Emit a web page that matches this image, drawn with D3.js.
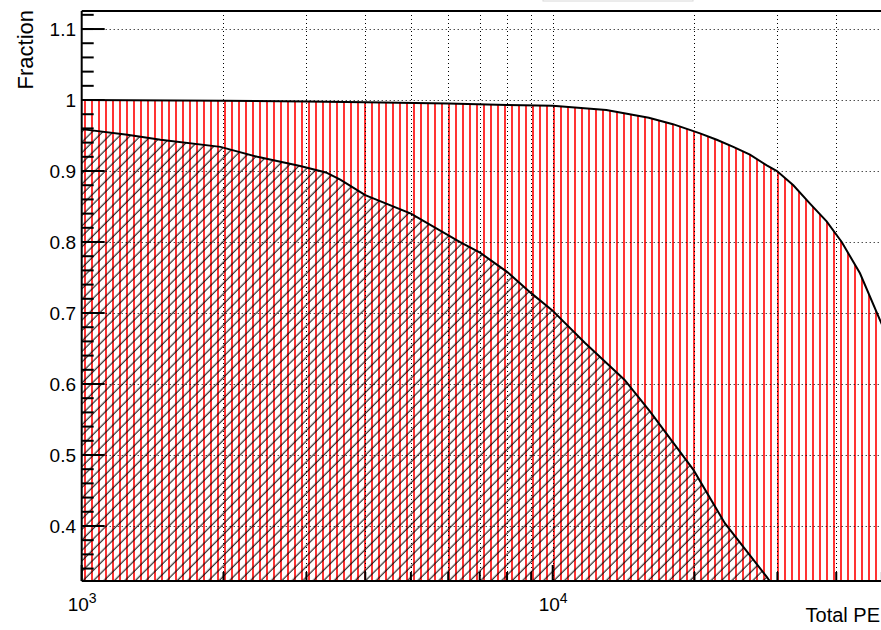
<!DOCTYPE html>
<html>
<head>
<meta charset="utf-8">
<script src="https://cdn.jsdelivr.net/npm/d3@7"></script>
<style>
body { margin: 0; background: #fff; }
text { font-family: "Liberation Sans", Arial, sans-serif; fill: #000; }
</style>
</head>
<body>
<div id="chart"></div>
<script>
const width = 881
const height = 630
const frame = {left: 81.7, right: 881.9, top: 11, bottom: 581}

// all events (red, vertical hatch)
const allPE = [1000, 2000, 3000, 4000, 6000, 8000, 10000, 13000, 16000, 18000, 20550, 22300, 24180, 26230, 28480, 29930, 32430, 35180, 38160, 41080, 44920, 49540, 50000]
const allFraction = [1.0, 0.999, 0.998, 0.997, 0.995, 0.993, 0.992, 0.986, 0.975, 0.966, 0.953, 0.944, 0.934, 0.923, 0.908, 0.900, 0.880, 0.854, 0.829, 0.800, 0.756, 0.690, 0.684]

// selected events (black, diagonal hatch)
const selPE = [1000, 1250, 1470, 1970, 2360, 2910, 3300, 3540, 4000, 5000, 6360, 7010, 8000, 9000, 9970, 11700, 14200, 16100, 19900, 23200, 28500, 30500]
const selFraction = [0.959, 0.951, 0.944, 0.934, 0.920, 0.907, 0.898, 0.888, 0.866, 0.840, 0.800, 0.785, 0.758, 0.728, 0.704, 0.658, 0.606, 0.561, 0.479, 0.404, 0.328, 0.300]

const yMajorTicks = [0.4, 0.5, 0.6, 0.7, 0.8, 0.9, 1.0, 1.1]
const yTickLabels = ["0.4", "0.5", "0.6", "0.7", "0.8", "0.9", "1", "1.1"]
const xDecades = [1000, 10000]
const xDecadeLabels = ["3", "4"]
const xSubTicks = [2000, 3000, 4000, 5000, 6000, 7000, 8000, 9000, 20000, 30000, 40000, 50000]

const svg = d3.select("div#chart").append("svg").attr("width", width).attr("height", height)

const x = d3.scaleLog().domain([1000, 50000]).range([frame.left, frame.right])
const y = d3.scaleLinear().domain([0.3225, 1.1254]).range([frame.bottom, frame.top])

const defs = svg.append("defs")
defs.append("clipPath").attr("id", "plotClip")
    .append("rect").attr("x", frame.left).attr("y", frame.top)
    .attr("width", frame.right - frame.left).attr("height", frame.bottom - frame.top)

defs.append("pattern").attr("id", "redVert").attr("patternUnits", "userSpaceOnUse")
    .attr("x", -3).attr("width", 7).attr("height", 10)
    .append("line").attr("x1", 4).attr("x2", 4).attr("y1", 0).attr("y2", 10)
    .attr("stroke", "#ff0000").attr("stroke-width", 1.6)

defs.append("pattern").attr("id", "blackDiag").attr("patternUnits", "userSpaceOnUse")
    .attr("width", 7.4).attr("height", 10).attr("patternTransform", "rotate(45)")
    .append("line").attr("x1", 3).attr("x2", 3).attr("y1", 0).attr("y2", 10)
    .attr("stroke", "#000").attr("stroke-width", 1)

// title box, mostly outside the picture
svg.append("rect").attr("x", 543).attr("y", -20).attr("width", 150).attr("height", 21)
    .attr("fill", "#fff").attr("stroke", "#d8d8d8").attr("stroke-width", 1)

const plot = svg.append("g").attr("clip-path", "url(#plotClip)")

const allData = allPE.map((d, i) => ({pe: d, f: allFraction[i]}))
const selData = selPE.map((d, i) => ({pe: d, f: selFraction[i]}))

const area = d3.area().x(d => x(d.pe)).y0(frame.bottom + 5).y1(d => y(d.f))
const line = d3.line().x(d => x(d.pe)).y(d => y(d.f))

plot.append("path").datum(allData).attr("d", area).attr("fill", "url(#redVert)")
plot.append("path").datum(selData).attr("d", area).attr("fill", "url(#blackDiag)")

// grid
const grid = plot.append("g").attr("stroke", "#000").attr("stroke-width", 1).attr("stroke-dasharray", "1,3")
grid.selectAll("line.h").data(yMajorTicks).enter().append("line").attr("class", "h")
    .attr("x1", frame.left).attr("x2", frame.right)
    .attr("y1", d => Math.round(y(d)) + 0.5).attr("y2", d => Math.round(y(d)) + 0.5)
grid.selectAll("line.v").data(xSubTicks.concat([10000])).enter().append("line").attr("class", "v")
    .attr("y1", frame.top).attr("y2", frame.bottom)
    .attr("x1", d => Math.round(x(d)) + 0.5).attr("x2", d => Math.round(x(d)) + 0.5)

plot.append("path").datum(allData).attr("d", line).attr("fill", "none").attr("stroke", "#000").attr("stroke-width", 2)
plot.append("path").datum(selData).attr("d", line).attr("fill", "none").attr("stroke", "#000").attr("stroke-width", 2)

// frame
const axes = svg.append("g").attr("stroke", "#000")
axes.append("line").attr("x1", frame.left).attr("x2", frame.left).attr("y1", frame.top).attr("y2", frame.bottom).attr("stroke-width", 2)
axes.append("line").attr("x1", frame.left).attr("x2", frame.right).attr("y1", frame.bottom).attr("y2", frame.bottom).attr("stroke-width", 2)
axes.append("line").attr("x1", frame.left).attr("x2", frame.right).attr("y1", frame.top).attr("y2", frame.top).attr("stroke-width", 2)

// y ticks
const yMinor = d3.range(17, 57).map(k => k * 0.02).filter(v => y(v) > frame.top && y(v) < frame.bottom)
axes.selectAll("line.ymin").data(yMinor).enter().append("line").attr("class", "ymin")
    .attr("x1", frame.left).attr("x2", frame.left + 12)
    .attr("y1", d => y(d)).attr("y2", d => y(d)).attr("stroke-width", 2)
axes.selectAll("line.ymaj").data(yMajorTicks).enter().append("line").attr("class", "ymaj")
    .attr("x1", frame.left).attr("x2", frame.left + 23)
    .attr("y1", d => y(d)).attr("y2", d => y(d)).attr("stroke-width", 2)

// x ticks
axes.selectAll("line.xsub").data(xSubTicks).enter().append("line").attr("class", "xsub")
    .attr("x1", d => x(d)).attr("x2", d => x(d))
    .attr("y1", frame.bottom).attr("y2", frame.bottom - 9).attr("stroke-width", 2)
axes.selectAll("line.xdec").data(xDecades).enter().append("line").attr("class", "xdec")
    .attr("x1", d => x(d)).attr("x2", d => x(d))
    .attr("y1", frame.bottom).attr("y2", frame.bottom - 16).attr("stroke-width", 2)

// labels
svg.selectAll("text.ylab").data(yMajorTicks).enter().append("text").attr("class", "ylab")
    .attr("x", 76).attr("y", d => y(d) + 7).attr("text-anchor", "end")
    .attr("font-size", 19).text((d, i) => yTickLabels[i])

const xlab = svg.selectAll("text.xlab").data(xDecades).enter().append("text").attr("class", "xlab")
    .attr("x", d => x(d) - 14).attr("y", 611).attr("font-size", 19)
xlab.append("tspan").text("10")
xlab.append("tspan").attr("font-size", 14).attr("dy", -8).text((d, i) => xDecadeLabels[i])

svg.append("text").attr("x", 880).attr("y", 622).attr("text-anchor", "end")
    .attr("font-size", 20).text("Total PE")

svg.append("text").attr("transform", "translate(33, 10) rotate(-90)").attr("text-anchor", "end")
    .attr("font-size", 22).text("Fraction")
</script>
</body>
</html>
